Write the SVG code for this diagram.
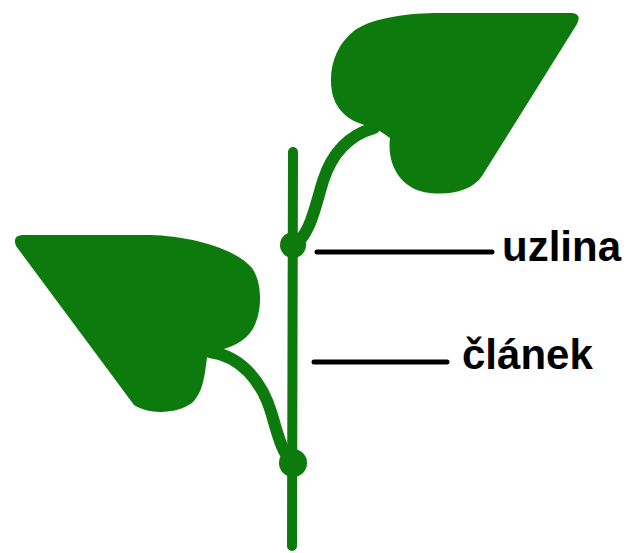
<svg xmlns="http://www.w3.org/2000/svg" width="630" height="553" viewBox="0 0 630 553">
  <style>
    .leaf { fill: #0c7a0c; }
    .stalk { fill: none; stroke: #0c7a0c; stroke-linecap: round; stroke-linejoin: round; }
    .pointer { stroke: #000; stroke-width: 5; stroke-linecap: round; }
    .label { font-family: "Liberation Sans", Arial, sans-serif; font-weight: bold; font-size: 42px; fill: #000; }
  </style>
  <rect width="630" height="553" fill="#fff"/>

  <g id="stem">
    <line class="stalk" x1="293" y1="152" x2="292" y2="546" stroke-width="10"/>
  </g>

  <g id="leaf-upper">
    <path class="stalk" stroke-width="12" d="M 374,128 C 346,136 331,156 323,181 C 315,207 310,236 293,246"/>
    <path class="leaf" d="M 374,127 C 352,124 336,112 332,92 C 328,70 335,45 355,30 C 375,17 410,13 440,13 L 572,13 Q 582,14 577,24 L 482,176 C 471,193 442,197 420,191 C 398,184 387,162 390,138 Z"/>
  </g>

  <g id="leaf-lower">
    <path class="stalk" stroke-width="12" d="M 210,352 C 240,356 262,380 272,415 C 279,440 284,456 293,463"/>
    <path class="leaf" d="M 22,235 L 150,235 C 190,236 235,248 252,268 C 264,285 262,318 250,333 C 240,345 225,350 208,352 C 205,365 206,390 192,403 C 176,414 150,415 134,405 L 16,246 Q 12,236 22,235 Z"/>
  </g>

  <g id="node-upper">
    <circle class="leaf" cx="293" cy="245" r="13"/>
  </g>
  <g id="node-lower">
    <circle class="leaf" cx="293" cy="463" r="14"/>
  </g>

  <g id="connectors">
    <line class="pointer" x1="317" y1="252" x2="492" y2="252"/>
    <line class="pointer" x1="314" y1="362" x2="447" y2="362"/>
  </g>

  <g id="label-uzlina">
    <text class="label" x="502" y="261">uzlina</text>
  </g>
  <g id="label-clanek">
    <text class="label" x="462" y="369">článek</text>
  </g>
</svg>
